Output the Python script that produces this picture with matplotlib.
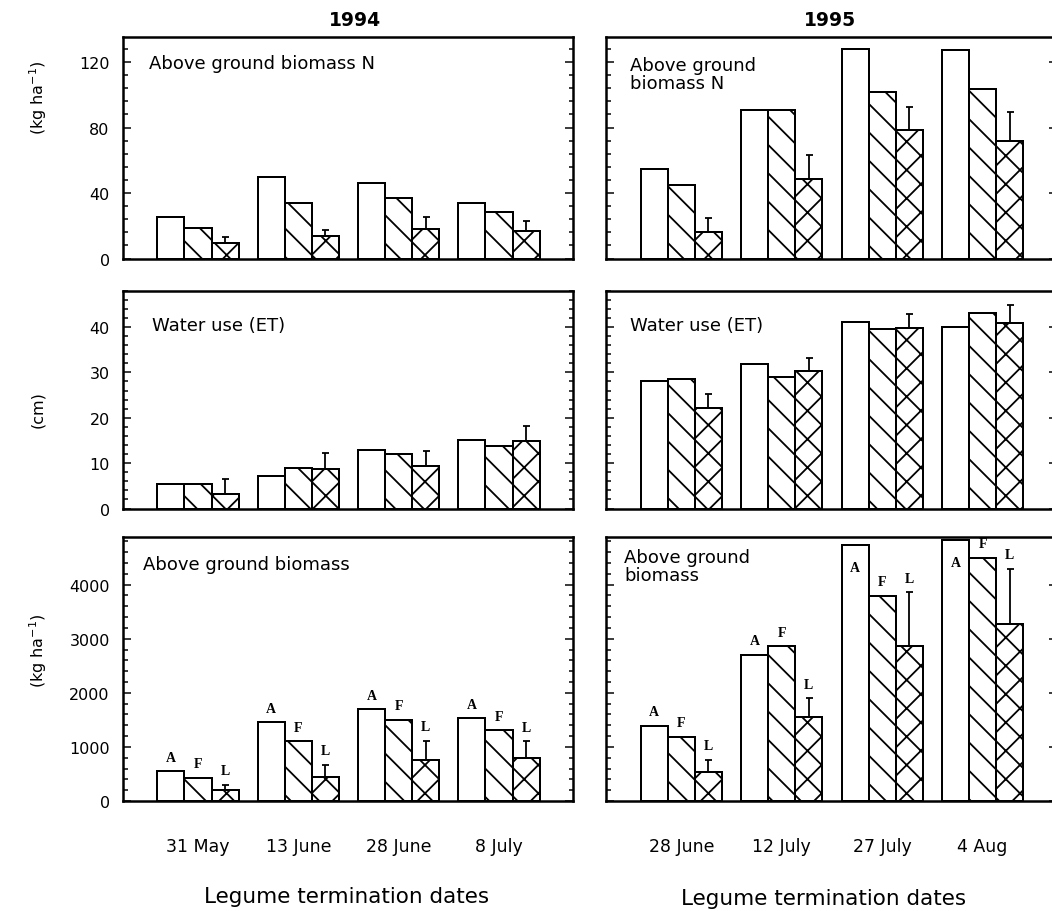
import numpy as np
import matplotlib
matplotlib.use('Agg')
import matplotlib.pyplot as plt
from matplotlib.ticker import MultipleLocator

# figure is drawn at 170 dpi so the hatch lines get the wide spacing of the scan
DPI = 170
W, H = 1052, 912

def pt(v):
    # pixels -> points
    return v * 72.0 / DPI

def fs(v):
    # font size as it would look at 100 dpi
    return v * 100.0 / DPI

#%% data
dates_1994 = ['31 May', '13 June', '28 June', '8 July']
dates_1995 = ['28 June', '12 July', '27 July', '4 Aug']
treatments = ['A', 'F', 'L']

# above ground biomass N (kg/ha)
n94_A = [25.6, 50.0, 46.3, 33.6]
n94_F = [18.9, 33.6, 37.2, 28.7]
n94_L = [9.2, 14.0, 18.3, 16.5]
n94_Lerr = [4.2, 3.7, 7.3, 6.7]
n95_A = [54.8, 90.6, 128.2, 127.4]
n95_F = [45.0, 90.6, 101.6, 103.6]
n95_L = [16.3, 48.7, 78.2, 72.0]
n95_Lerr = [8.3, 14.4, 14.2, 17.3]

# water use ET (cm)
et94_A = [5.3, 7.2, 12.9, 15.0]
et94_F = [5.4, 8.9, 12.1, 13.8]
et94_L = [3.3, 8.8, 9.3, 14.8]
et94_Lerr = [3.3, 3.4, 3.3, 3.3]
et95_A = [28.1, 31.9, 41.1, 40.0]
et95_F = [28.5, 29.0, 39.6, 43.0]
et95_L = [22.2, 30.4, 39.7, 40.9]
et95_Lerr = [3.1, 2.8, 3.2, 3.9]

# above ground biomass (kg/ha)
bm94_A = [554, 1459, 1695, 1533]
bm94_F = [431, 1106, 1502, 1310]
bm94_L = [208, 437, 766, 803]
bm94_Lerr = [93, 236, 346, 297]
bm95_A = [1390, 2699, 4730, 4818]
bm95_F = [1186, 2859, 3796, 4494]
bm95_L = [530, 1552, 2866, 3275]
bm95_Lerr = [236, 348, 991, 1022]

#%%
plt.rcParams['font.family'] = 'DejaVu Sans'
plt.rcParams['hatch.linewidth'] = pt(1.8)
plt.rcParams['hatch.color'] = 'black'

fig = plt.figure(figsize=(W / DPI, H / DPI), dpi=DPI)

def add_ax(x0, y0, x1, y1):
    return fig.add_axes([x0 / W, 1 - y1 / H, (x1 - x0) / W, (y1 - y0) / H])

cols = [(122.7, 573.3), (606.0, 1057.0)]
rows = [(38.0, 259.5), (291.7, 509.5), (538.0, 802.0)]
bw = 0.27


def panel(ax, a, f, l, lerr, ymax, major, minor, text, txy, height_px,
          ylab=True, xlabels=None, letters=False):
    x = np.arange(len(a))
    ax.bar(x - bw, a, bw, facecolor='white', edgecolor='black', linewidth=pt(2))
    ax.bar(x, f, bw, facecolor='white', edgecolor='black', linewidth=pt(2), hatch='\\\\')
    ax.bar(x + bw, l, bw, facecolor='white', edgecolor='black', linewidth=pt(2), hatch='xx')
    ax.errorbar(x + bw, l, yerr=[np.zeros(len(l)), lerr], fmt='none', ecolor='black',
                elinewidth=pt(1.8), capsize=pt(3.5), capthick=pt(1.8), zorder=5)
    ax.set_xlim(-0.75, 3.74)
    ax.set_ylim(0, ymax)
    ax.yaxis.set_major_locator(MultipleLocator(major))
    ax.yaxis.set_minor_locator(MultipleLocator(minor))
    ax.tick_params(axis='y', which='both', direction='in', left=True, right=True,
                   width=pt(1.5), labelsize=fs(11.5), pad=pt(13))
    ax.tick_params(axis='y', which='major', length=pt(8))
    ax.tick_params(axis='y', which='minor', length=pt(4.5))
    if not ylab:
        ax.tick_params(axis='y', labelleft=False)
    ax.set_xticks(x)
    if xlabels is None:
        ax.set_xticklabels([])
    else:
        ax.set_xticklabels(xlabels, fontsize=fs(12.5), fontweight='medium')
    ax.tick_params(axis='x', length=0, pad=pt(36))
    for s in ax.spines.values():
        s.set_linewidth(pt(2.5))
    ax.text(txy[0], txy[1], text, transform=ax.transAxes, ha='left', va='top',
            fontsize=fs(13), linespacing=1.0)

    if letters:
        upx = height_px / ymax  # pixels per data unit
        for k, (vals, dx) in enumerate([(a, -bw), (f, 0), (l, bw)]):
            for i, v in enumerate(vals):
                top = v + lerr[i] if k == 2 else v
                if (ymax - top) * upx < 20:
                    off = -22
                else:
                    off = 14
                ax.annotate(treatments[k], (i + dx, top), xytext=(0, pt(off)),
                            textcoords='offset points', ha='center', va='center',
                            fontsize=fs(10), fontweight='bold',
                            family='Liberation Serif', zorder=6)


data = [
    [(n94_A, n94_F, n94_L, n94_Lerr), (n95_A, n95_F, n95_L, n95_Lerr)],
    [(et94_A, et94_F, et94_L, et94_Lerr), (et95_A, et95_F, et95_L, et95_Lerr)],
    [(bm94_A, bm94_F, bm94_L, bm94_Lerr), (bm95_A, bm95_F, bm95_L, bm95_Lerr)],
]
ylims = [135.3, 48, 4880]
majors = [40, 10, 1000]
minors = [8, 2, 200]
texts = [['Above ground biomass N', 'Above ground\nbiomass N'],
         ['Water use (ET)', 'Water use (ET)'],
         ['Above ground biomass', 'Above ground\nbiomass']]
text_pos = [[(0.059, 0.925), (0.053, 0.915)],
            [(0.064, 0.885), (0.053, 0.886)],
            [(0.044, 0.930), (0.040, 0.958)]]
dates = [dates_1994, dates_1995]

for r in range(3):
    for c in range(2):
        ax = add_ax(cols[c][0], rows[r][0], cols[c][1], rows[r][1])
        a, f, l, e = data[r][c]
        panel(ax, a, f, l, e, ylims[r], majors[r], minors[r], texts[r][c],
              text_pos[r][c], rows[r][1] - rows[r][0],
              ylab=(c == 0), xlabels=dates[c] if r == 2 else None,
              letters=(r == 2))

# column titles, axis labels
fig.text(355 / W, 1 - 21 / H, '1994', ha='center', va='center', fontsize=fs(13.5), fontweight='bold')
fig.text(830 / W, 1 - 21 / H, '1995', ha='center', va='center', fontsize=fs(13.5), fontweight='bold')
fig.text(347 / W, 1 - 897 / H, 'Legume termination dates', ha='center', va='center', fontsize=fs(15.5))
fig.text(824 / W, 1 - 899 / H, 'Legume termination dates', ha='center', va='center', fontsize=fs(15.5))
fig.text(38 / W, 1 - 98 / H, '(kg ha$^{-1}$)', rotation=90, ha='center', va='center', fontsize=fs(11.5))
fig.text(38 / W, 1 - 410 / H, '(cm)', rotation=90, ha='center', va='center', fontsize=fs(11.5))
fig.text(38 / W, 1 - 651 / H, '(kg ha$^{-1}$)', rotation=90, ha='center', va='center', fontsize=fs(11.5))

fig.savefig('out.png', dpi=DPI)
